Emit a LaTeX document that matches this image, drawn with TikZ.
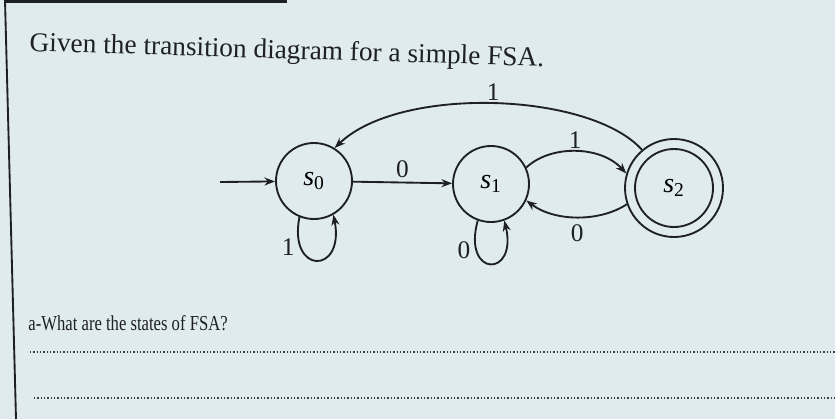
\documentclass[tikz,border=0pt]{standalone}
\usepackage{fontspec}
\setmainfont{Liberation Serif}
\usepackage{graphicx}
\usetikzlibrary{arrows.meta}

\definecolor{paper}{RGB}{224,235,239}
\definecolor{ink}{RGB}{30,32,36}
\definecolor{dots}{RGB}{60,64,70}

\tikzset{every picture/.style={line width=0.75pt}}
\tikzset{
  state/.style={draw=ink, circle, line width=1.4pt, minimum size=57pt, inner sep=0pt, font=\fontsize{21}{24}\selectfont},
  edge/.style={draw=ink, line width=1.4pt, -{Stealth[length=8pt,width=6pt]}},
  lbl/.style={text=ink, inner sep=0.75pt, font=\fontsize{19}{22}\selectfont},
  rule/.style={draw=dots, line width=1.5pt, dash pattern=on 1.1pt off 1.4pt}
}
\newcommand{\stname}[1]{\textit{s}\textsubscript{#1}}

\begin{document}
\begin{tikzpicture}[x=0.75pt,y=0.75pt,yscale=-1,xscale=1]
%Shape: Rectangle [paper]
\fill[paper] (0,0) rectangle (835,419);
\useasboundingbox (0,0) rectangle (835,419);
%Straight Lines [page edge]
\draw[ink, line width=1.4pt] (5,0) -- (16,419);
\draw[ink, line width=2.5pt] (5,1) -- (287,1);

% Text Node
\node[text=ink, anchor=base west, rotate=-1.7, inner sep=0pt, font=\fontsize{20.5}{24}\selectfont] (title) at (29,51) {Given the transition diagram for a simple FSA.};

%Shape: Circle [states]
\node[state] (s0) at (314,181) {\stname{0}};
\node[state] (s1) at (491,184) {\stname{1}};
\node[state, minimum size=73.5pt] (s2) at (674,188) {\stname{2}};
\draw[ink, line width=1.4pt] (s2.center) circle[radius=39];

%Straight Lines [start]
\coordinate (start) at (220,182);
\draw[edge] (start) -- (s0);
\draw[edge] (s0) -- node[lbl, above=2pt] {0} (s1);

%Curve Lines
\draw[edge] (s1.25) .. controls (550,145) and (600,145) .. node[lbl, above=1pt] {1} (s2.163);
\draw[edge] (s2.199) .. controls (600,222) and (555,222) .. node[lbl, below=4pt] {0} (s1.335);
\draw[edge] (s2.130) .. controls (590,92) and (400,85) .. node[lbl, above=1pt] {1} (s0.58);

%Curve Lines [loops]
\draw[edge] (s0.248) .. controls (288,275) and (345,275) .. node[lbl, pos=0.22, left=3pt] {1} (s0.300);
\draw[edge] (s1.250) .. controls (462,278) and (518,278) .. node[lbl, pos=0.22, left=3pt] {0} (s1.290);

% Text Node
\node[text=ink, anchor=base west, inner sep=0pt, font=\fontsize{16}{19}\selectfont] (question) at (28,330) {\scalebox{0.78}[1]{a-What are the states of FSA?}};

%Straight Lines [answer rules]
\draw[rule] (30,352) -- (835,352);
\draw[rule] (34,398) -- (835,398);

\end{tikzpicture}
\end{document}
